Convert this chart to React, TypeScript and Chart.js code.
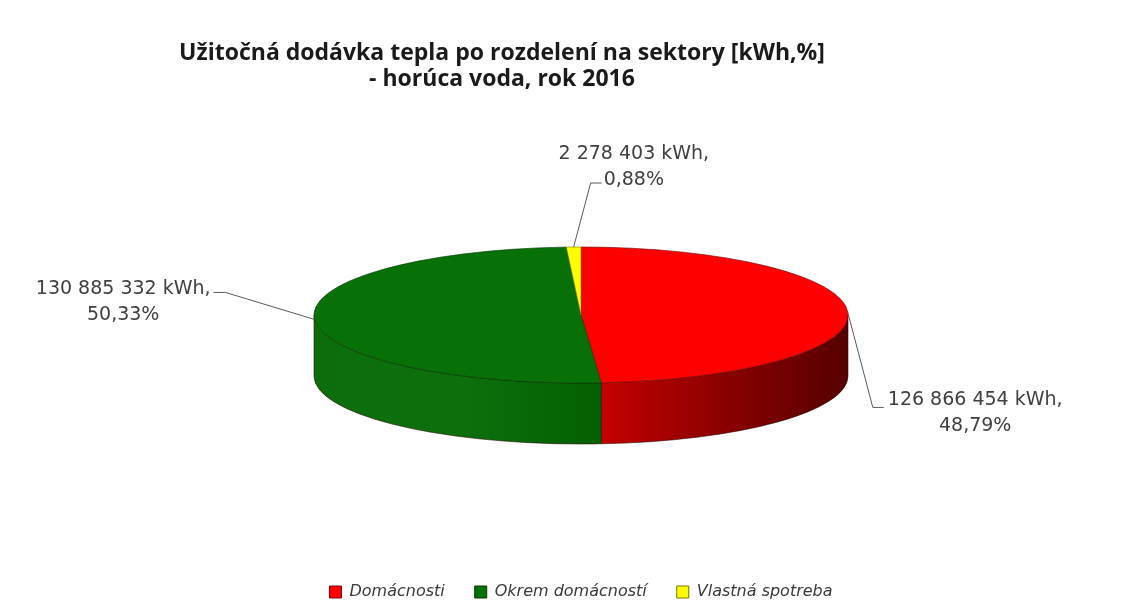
import React, { useEffect, useRef } from "react";
import { Chart, registerables } from "chart.js";

Chart.register(...registerables);

// ---- data ----
const TITLE_LINES = [
  "Užitočná dodávka tepla po rozdelení na sektory [kWh,%]",
  "- horúca voda, rok 2016",
];
const CATEGORIES = ["Domácnosti", "Okrem domácností", "Vlastná spotreba"];
const VALUES_KWH = [126866454, 130885332, 2278403];
const PERCENT_LABELS = ["48,79%", "50,33%", "0,88%"];

// ---- styles ----
const TOP_COLORS = ["#ff0000", "#077007", "#ffff00"];
const BORDER_COLORS = ["#7a0000", "#043a04", "#7a7a00"];
const SIDE_STOPS = [
  ["#c40000", "#8a0000", "#560000"],
  ["#0d6d0d", "#0c700c", "#036003"],
  ["#d6d600", "#b8b800", "#9a9a00"],
];
const TILT = 68 / 267;
const DEPTH = 61;
const RADIUS = 267;

const LABEL_FONT = "19px 'DejaVu Sans', sans-serif";
const LABEL_COLOR = "#404040";
const LINE_GAP = 26;

function formatKwh(v: number): string {
  const s = String(Math.round(v));
  const parts: string[] = [];
  for (let i = s.length; i > 0; i -= 3) parts.unshift(s.slice(Math.max(0, i - 3), i));
  return parts.join(" ") + " kWh,";
}

// per-slice leader layout: elbow offset from anchor, run length, text placement mode
const LEADERS = [
  { ex: 25, ey: 95, run: 11, mode: "right1" },
  { ex: -89, ey: -27, run: -12, mode: "left1" },
  { ex: 17, ey: -64, run: 11, mode: "right2" },
];

const pie3d = {
  id: "pie3d",
  beforeDatasetDraw(chart: any) {
    const ctx: CanvasRenderingContext2D = chart.ctx;
    const meta = chart.getDatasetMeta(0);
    // sides
    meta.data.forEach((arc: any, i: number) => {
      const p = arc.getProps(["x", "y", "startAngle", "endAngle", "outerRadius"], true);
      const a0 = Math.max(p.startAngle, 0);
      const a1 = Math.min(p.endAngle, Math.PI);
      if (a1 <= a0) return;
      const r = p.outerRadius;
      const ry = r * TILT;
      const xa = p.x + r * Math.cos(a0);
      const xb = p.x + r * Math.cos(a1);
      const g = ctx.createLinearGradient(Math.min(xa, xb), 0, Math.max(xa, xb), 0);
      const st = SIDE_STOPS[i];
      g.addColorStop(0, st[0]);
      g.addColorStop(0.5, st[1]);
      g.addColorStop(1, st[2]);
      ctx.save();
      ctx.beginPath();
      ctx.ellipse(p.x, p.y, r, ry, 0, a0, a1, false);
      ctx.ellipse(p.x, p.y + DEPTH, r, ry, 0, a1, a0, true);
      ctx.closePath();
      ctx.fillStyle = g;
      ctx.fill();
      ctx.strokeStyle = "rgba(40,0,0,0.55)";
      ctx.lineWidth = 1;
      ctx.stroke();
      ctx.restore();
    });
    // squash top surface
    const a = meta.data[0];
    ctx.save();
    ctx.translate(a.x, a.y);
    ctx.scale(1, TILT);
    ctx.translate(-a.x, -a.y);
  },
  afterDatasetDraw(chart: any) {
    chart.ctx.restore();
  },
  afterDraw(chart: any) {
    const ctx: CanvasRenderingContext2D = chart.ctx;
    // title
    ctx.save();
    ctx.fillStyle = "#1a1a1a";
    ctx.font = "bold 23px 'Open Sans', sans-serif";
    ctx.textAlign = "center";
    ctx.textBaseline = "alphabetic";
    ctx.fillText(TITLE_LINES[0], 502, 60);
    ctx.fillText(TITLE_LINES[1], 502, 86);
    ctx.restore();

    // data labels
    const meta = chart.getDatasetMeta(0);
    ctx.save();
    ctx.font = LABEL_FONT;
    ctx.fillStyle = LABEL_COLOR;
    ctx.textAlign = "center";
    ctx.textBaseline = "middle";
    ctx.strokeStyle = "#5a5a5a";
    ctx.lineWidth = 1;
    meta.data.forEach((arc: any, i: number) => {
      const p = arc.getProps(["x", "y", "startAngle", "endAngle", "outerRadius"], true);
      const m = (p.startAngle + p.endAngle) / 2;
      const ax = p.x + p.outerRadius * Math.cos(m);
      const ay = p.y + p.outerRadius * TILT * Math.sin(m);
      const L = LEADERS[i];
      const ex = ax + L.ex;
      const ey = ay + L.ey;
      const lx = ex + L.run;
      ctx.beginPath();
      ctx.moveTo(ax, ay);
      ctx.lineTo(ex, ey);
      ctx.lineTo(lx, ey);
      ctx.stroke();
      const t1 = formatKwh(VALUES_KWH[i]);
      const t2 = PERCENT_LABELS[i];
      const w1 = ctx.measureText(t1).width;
      const w2 = ctx.measureText(t2).width;
      let cx = 0;
      let y1 = 0;
      if (L.mode === "right1") {
        cx = lx + 4 + w1 / 2;
        y1 = ey - 7;
      } else if (L.mode === "left1") {
        cx = lx - 3 - w1 / 2;
        y1 = ey - 3;
      } else {
        cx = lx + 2 + w2 / 2;
        y1 = ey - 3 - LINE_GAP;
      }
      ctx.fillText(t1, cx, y1);
      ctx.fillText(t2, cx, y1 + LINE_GAP);
    });
    ctx.restore();
  },
};

export default function App() {
  const ref = useRef<HTMLCanvasElement | null>(null);
  useEffect(() => {
    if (!ref.current) return;
    const chart = new Chart(ref.current, {
      type: "pie",
      data: {
        labels: CATEGORIES,
        datasets: [
          {
            data: VALUES_KWH,
            backgroundColor: TOP_COLORS,
            borderColor: BORDER_COLORS,
            borderWidth: 1,
            radius: RADIUS,
            clip: false,
          } as any,
        ],
      },
      options: {
        responsive: false,
        animation: false,
        devicePixelRatio: 1,
        events: [],
        rotation: 0,
        layout: { padding: { top: 76, bottom: 4, left: 29, right: 0 } },
        plugins: {
          title: { display: false },
          tooltip: { enabled: false },
          legend: {
            position: "bottom",
            labels: {
              boxWidth: 12,
              boxHeight: 12,
              padding: 30,
              color: "#3a3a3a",
              font: { family: "'DejaVu Sans', sans-serif", size: 16, style: "italic" },
            },
          },
        },
      },
      plugins: [pie3d],
    });
    return () => chart.destroy();
  }, []);
  return (
    <div style={{ position: "fixed", left: 0, top: 0, width: 1133, height: 614, background: "#fff" }}>
      <canvas ref={ref} width={1133} height={614} style={{ display: "block" }} />
    </div>
  );
}
